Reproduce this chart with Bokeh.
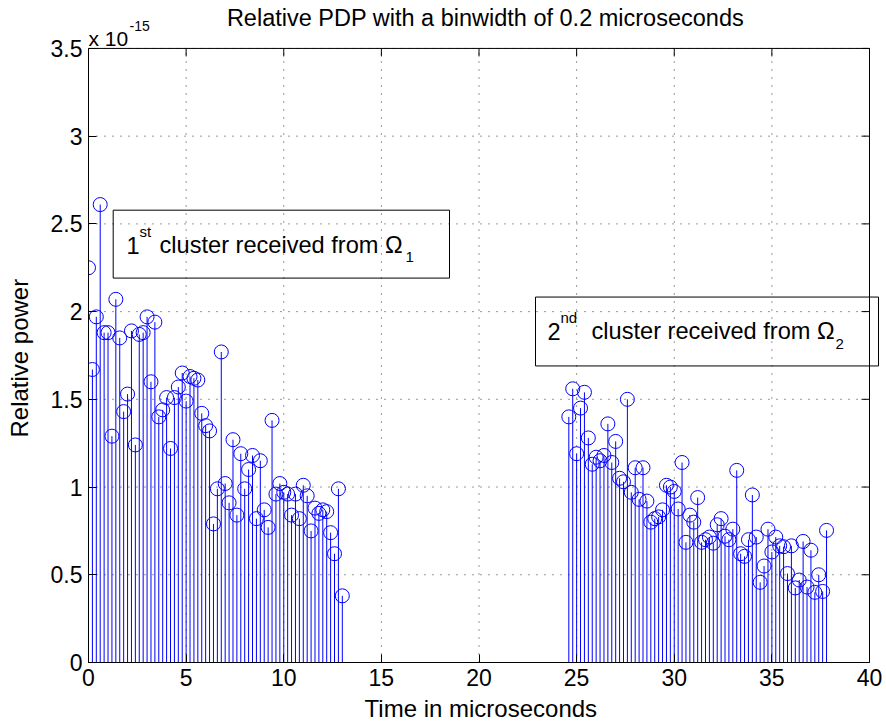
import math
from bokeh.plotting import figure
from bokeh.models import ColumnDataSource, Range1d, FixedTicker, Label, BoxAnnotation
from bokeh.embed import file_html
from bokeh.resources import INLINE

# ---------------- data (relative power in units of 1e-15) ----------------
BIN = 0.2
c1_start = 0.0
c1_power = [2.25, 1.67, 1.97, 2.61, 1.88, 1.88, 1.29, 2.07, 1.85, 1.43,
            1.53, 1.89, 1.24, 1.87, 1.88, 1.97, 1.60, 1.94, 1.40, 1.44,
            1.51, 1.22, 1.51, 1.57, 1.65, 1.49, 1.63, 1.62, 1.61, 1.42,
            1.35, 1.32, 0.79, 0.99, 1.77, 1.02, 0.91, 1.27, 0.84, 1.19,
            0.99, 1.10, 1.18, 0.82, 1.15, 0.87, 0.77, 1.38, 0.96, 1.02,
            0.97, 0.96, 0.84, 0.96, 0.82, 1.01, 0.95, 0.75, 0.88, 0.85,
            0.87, 0.86, 0.74, 0.62, 0.99, 0.38]
c2_start = 24.6
c2_power = [1.40, 1.56, 1.19, 1.45, 1.54, 1.28, 1.13, 1.17, 1.15, 1.18,
            1.36, 1.14, 1.26, 1.05, 1.03, 1.50, 0.97, 1.11, 0.93, 1.11,
            0.92, 0.80, 0.82, 0.83, 0.87, 1.01, 1.00, 0.975, 0.875, 1.14,
            0.685, 0.84, 0.80, 0.94, 0.685, 0.70, 0.715, 0.68, 0.785, 0.82,
            0.72, 0.70, 0.76, 1.095, 0.62, 0.605, 0.70, 0.955, 0.715, 0.457,
            0.55, 0.76, 0.63, 0.715, 0.665, 0.66, 0.507, 0.665, 0.425, 0.47,
            0.69, 0.43, 0.64, 0.40, 0.50, 0.405, 0.753]

x_ticks = [0, 5, 10, 15, 20, 25, 30, 35, 40]
x_tick_labels = ["0", "5", "10", "15", "20", "25", "30", "35", "40"]
y_ticks = [0, 0.5, 1, 1.5, 2, 2.5, 3, 3.5]
y_tick_labels = ["0", "0.5", "1", "1.5", "2", "2.5", "3", "3.5"]

title_text = "Relative PDP with a binwidth of 0.2 microseconds"
x_label = "Time in microseconds"
y_label = "Relative power"
exp_base = "x 10"
exp_power = "-15"

# ---------------- build ----------------
t1 = [c1_start + BIN * i for i in range(len(c1_power))]
t2 = [c2_start + BIN * i for i in range(len(c2_power))]
xs = t1 + t2
ys = c1_power + c2_power
src = ColumnDataSource(dict(x=xs, y=ys, y0=[0.0] * len(xs)))

FONT = "Liberation Sans"
W, H = 886, 724
L, B = 88, 61                 # left / bottom panels for the axes
AX_TOP, AX_RIGHT = 48, 869    # page pixels of the axes box top and right edge
XMIN, XMAX, YMIN, YMAX = 0, 40, 0, 3.5

# the frame reaches the top and right page edges so that texts there are not clipped
px_per_x = (AX_RIGHT - L) / (XMAX - XMIN)
px_per_y = (H - B - AX_TOP) / (YMAX - YMIN)
XR = XMIN + (W - L) / px_per_x
YT = YMIN + (H - B) / px_per_y

p = figure(width=W, height=H, x_range=Range1d(XMIN, XR), y_range=Range1d(YMIN, YT),
           output_backend="svg", toolbar_location=None,
           min_border_left=L, min_border_right=0, min_border_top=0, min_border_bottom=B)
p.title.text = ""
p.background_fill_color = "white"
p.border_fill_color = "white"
p.outline_line_color = None

def px2x(px):
    return XMIN + (px - L) / px_per_x
def py2y(py):
    return YMIN + (H - B - py) / px_per_y

NBSP = "\u00a0"
TICK = 8
def style_axis(ax, ticks, labels, bounds):
    ax.ticker = FixedTicker(ticks=ticks)
    ax.bounds = bounds
    ax.major_label_overrides = {t: s for t, s in zip(ticks, labels)}
    ax.major_tick_in = TICK
    ax.major_tick_out = 0
    ax.minor_tick_in = 0
    ax.minor_tick_out = 0
    ax.axis_line_color = "black"
    ax.major_tick_line_color = "black"
    ax.major_label_text_font = FONT
    ax.major_label_text_color = "black"
    ax.major_label_text_font_size = "23px"
    ax.major_label_standoff = 6
    ax.axis_label_text_font = FONT
    ax.axis_label_text_font_size = "24px"
    ax.axis_label_text_font_style = "normal"
    ax.axis_label_text_color = "black"

style_axis(p.xaxis[0], x_ticks, x_tick_labels, (XMIN, XMAX))
style_axis(p.yaxis[0], y_ticks, y_tick_labels, (YMIN, YMAX))
# the axis labels are centred on the whole frame; trailing no-break spaces
# re-centre the visible words on the axes box
p.xaxis[0].axis_label = x_label + NBSP * 2
p.xaxis[0].axis_label_standoff = 6
p.yaxis[0].axis_label = y_label + NBSP * 8
p.yaxis[0].axis_label_standoff = 15

# dotted grid limited to the axes box
p.xgrid.visible = False
p.ygrid.visible = False
p.segment(x0=x_ticks, y0=[YMIN] * len(x_ticks), x1=x_ticks, y1=[YMAX] * len(x_ticks),
          line_color="black", line_dash="1 7", line_width=1, line_alpha=0.8)
p.segment(x0=[XMIN] * len(y_ticks), y0=y_ticks, x1=[XMAX] * len(y_ticks), y1=y_ticks,
          line_color="black", line_dash="1 7", line_width=1, line_alpha=0.8)

# box: top and right edges with inward ticks
dy = TICK / px_per_y
dx = TICK / px_per_x
p.segment(x0=[XMIN, XMAX], y0=[YMAX, YMIN], x1=[XMAX, XMAX], y1=[YMAX, YMAX],
          line_color="black", line_width=1)
p.segment(x0=x_ticks, y0=[YMAX] * len(x_ticks), x1=x_ticks, y1=[YMAX - dy] * len(x_ticks),
          line_color="black", line_width=1)
p.segment(x0=[XMAX] * len(y_ticks), y0=y_ticks, x1=[XMAX - dx] * len(y_ticks), y1=y_ticks,
          line_color="black", line_width=1)

# stems and markers
p.segment(x0="x", y0="y0", x1="x", y1="y", source=src, line_color="#0000ff", line_width=1)
p.scatter(x="x", y="y", source=src, marker="circle", size=14, fill_color=None,
          line_color="#0000ff", line_width=1)

def lab(px, py, text, size, align="left", baseline="alphabetic"):
    p.add_layout(Label(x=px2x(px), y=py2y(py), text=text, text_font=FONT,
                       text_font_size=f"{size}px", text_align=align, text_baseline=baseline,
                       text_color="black"))

# title and exponent above the axes box
lab(485, 18, title_text, 23.5, align="center", baseline="middle")
lab(88, 38, exp_base, 21)
lab(129, 26, exp_power, 14)

# annotation boxes
p.add_layout(BoxAnnotation(left=px2x(112.7), right=px2x(449), top=py2y(210), bottom=py2y(278),
                           fill_color=None, fill_alpha=0, line_color="black", line_width=1, line_alpha=1))
p.add_layout(BoxAnnotation(left=px2x(535), right=px2x(878), top=py2y(297), bottom=py2y(366),
                           fill_color=None, fill_alpha=0, line_color="black", line_width=1, line_alpha=1))

lab(126, 245, "1", 23.6)
lab(139, 231, "st", 15)
lab(159, 245, "cluster received from \u03a9", 23.6)
lab(405, 257, "1", 15)

lab(547, 331, "2", 23.6)
lab(560, 317, "nd", 15)
lab(591, 331, "cluster received from \u03a9", 23.6)
lab(835, 344, "2", 15)

open("out.html", "w").write(file_html(p, INLINE))
